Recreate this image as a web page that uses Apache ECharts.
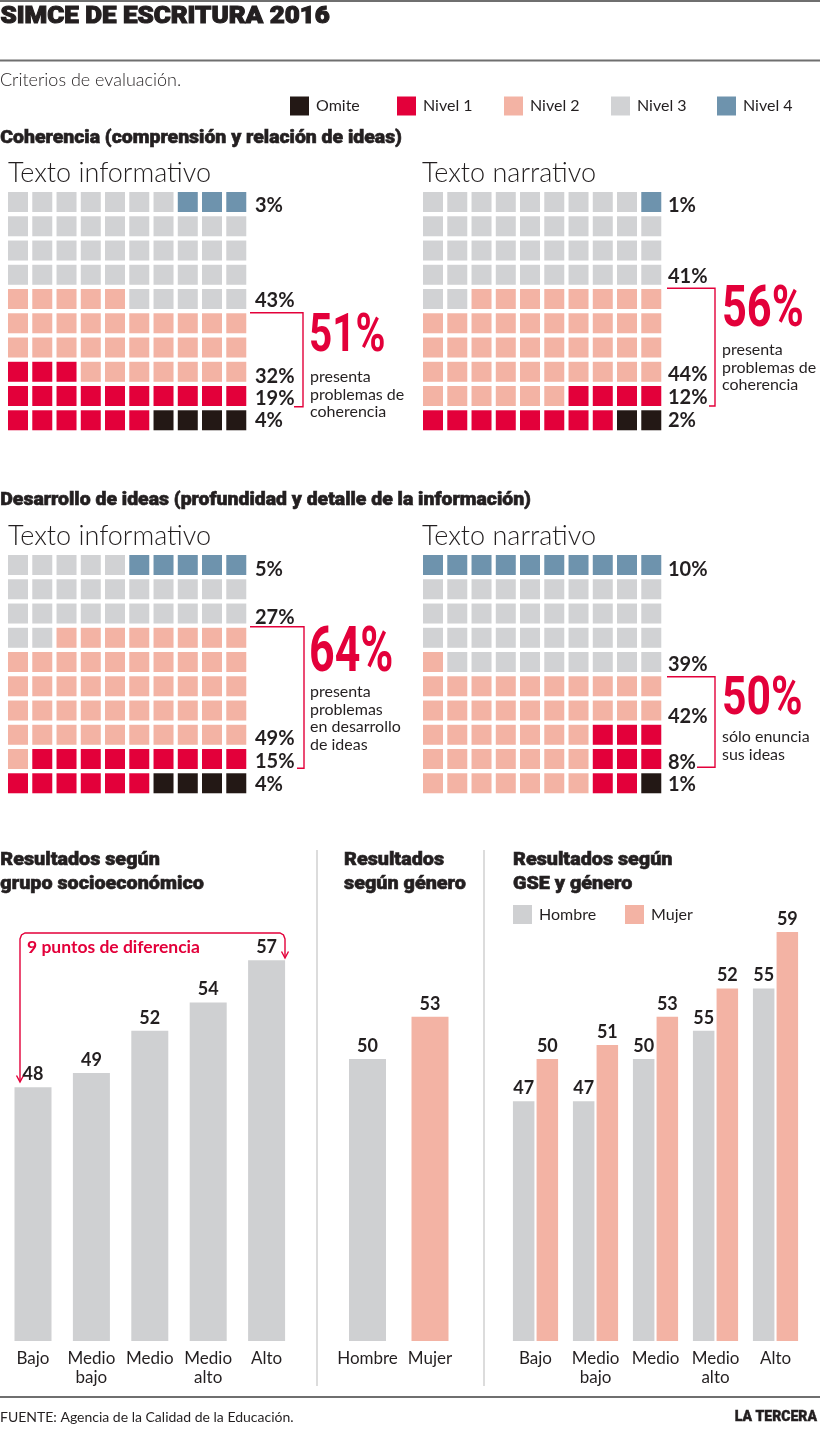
<!DOCTYPE html>
<html>
<head>
<meta charset="utf-8">
<script src="https://cdn.jsdelivr.net/npm/echarts@6/dist/echarts.min.js"></script>
<style>
html,body{margin:0;padding:0;background:#fff;}
#c{width:820px;height:1442px;}
</style>
</head>
<body>
<div id="c"></div>
<script>
// ---------------- DATA ----------------
const LEVELS = ['Omite', 'Nivel 1', 'Nivel 2', 'Nivel 3', 'Nivel 4'];

// Waffle grids (rows top to bottom, one digit per cell: 0=Omite,1..4=Nivel)
const cohInfGrid = [
  '3333333444','3333333333','3333333333','3333333333','2222233333',
  '2222222222','2222222222','1112222222','1111111111','1111110000'
];
const cohNarGrid = [
  '3333333334','3333333333','3333333333','3333333333','3322222222',
  '2222222222','2222222222','2222222222','2222221111','1111111100'
];
const desInfGrid = [
  '3333344444','3333333333','3333333333','3322222222','2222222222',
  '2222222222','2222222222','2222222222','2111111111','1111110000'
];
const desNarGrid = [
  '4444444444','3333333333','3333333333','3333333333','2333333333',
  '2222222222','2222222222','2222222111','2222222111','2222222110'
];

const cohInfPct = ['3%', '43%', '32%', '19%', '4%'];
const cohNarPct = ['1%', '41%', '44%', '12%', '2%'];
const desInfPct = ['5%', '27%', '49%', '15%', '4%'];
const desNarPct = ['10%', '39%', '42%', '8%', '1%'];

const cohInfTotal = '51%';
const cohNarTotal = '56%';
const desInfTotal = '64%';
const desNarTotal = '50%';

const cohInfNote = ['presenta', 'problemas de', 'coherencia'];
const cohNarNote = ['presenta', 'problemas de', 'coherencia'];
const desInfNote = ['presenta', 'problemas', 'en desarrollo', 'de ideas'];
const desNarNote = ['sólo enuncia', 'sus ideas'];

const gseCats = ['Bajo', 'Medio\nbajo', 'Medio', 'Medio\nalto', 'Alto'];
const gseVals = [48, 49, 52, 54, 57];

const genCats = ['Hombre', 'Mujer'];
const genVals = [50, 53];

const gseHombre = [47, 47, 50, 52, 55];
const gseMujer = [50, 51, 53, 55, 59];
const gseHombreLabels = ['47', '47', '50', '55', '55'];
const gseMujerLabels = ['50', '51', '53', '52', '59'];

// ---------------- STYLE ----------------
const LEVEL_COLORS = ['#231815', '#e3003a', '#f3b3a4', '#d1d2d4', '#6e93ad'];
const RED = '#e3003a';
const INK = '#231f20';
const GREY_BAR = '#cfd0d2';
const SALMON = '#f3b3a4';
const FONT = 'Lato, "Open Sans", sans-serif';
const HEAVY = 'Roboto, Lato, sans-serif';

const chart = echarts.init(document.getElementById('c'), null, {renderer: 'canvas'});

// waffle panels layout
const PITCH = 24.25;
const panels = [
  {grid: cohInfGrid, left: 5.9, top: 189.9},
  {grid: cohNarGrid, left: 420.9, top: 189.9},
  {grid: desInfGrid, left: 5.9, top: 552.9},
  {grid: desNarGrid, left: 420.9, top: 552.9}
];

const grids = [], xAxes = [], yAxes = [], series = [];
panels.forEach((p, pi) => {
  grids.push({left: p.left, top: p.top, width: PITCH * 10, height: PITCH * 10, containLabel: false});
  xAxes.push({type: 'value', gridIndex: pi, min: 0, max: 10, show: false});
  yAxes.push({type: 'value', gridIndex: pi, min: 0, max: 10, inverse: true, show: false});
  LEVELS.forEach((lv, k) => {
    const data = [];
    p.grid.forEach((row, r) => {
      row.split('').forEach((ch, c) => {
        if (+ch === k) data.push([c + 0.5, r + 0.5]);
      });
    });
    series.push({
      type: 'scatter', name: lv, xAxisIndex: pi, yAxisIndex: pi,
      symbol: 'rect', symbolSize: 20, data: data, silent: true,
      itemStyle: {color: LEVEL_COLORS[k], opacity: 1}
    });
  });
});

// bar charts
const BAR_TOP = 918, BAR_H = 423;
const barLabel = {show: true, position: 'top', distance: 4, color: INK, fontFamily: FONT, fontWeight: 'bold', fontSize: 18};
const catAxis = (gi, data) => ({
  type: 'category', gridIndex: gi, data: data,
  axisLine: {show: false}, axisTick: {show: false}, splitLine: {show: false},
  axisLabel: {interval: 0, color: INK, fontFamily: FONT, fontSize: 17, lineHeight: 19, margin: 8}
});
const valAxis = (gi) => ({type: 'value', gridIndex: gi, min: 30, max: 60, show: false, splitLine: {show: false}});

// grid 4: GSE
grids.push({left: 3.8, top: BAR_TOP, width: 292, height: BAR_H});
xAxes.push(catAxis(4, gseCats));
yAxes.push(valAxis(4));
series.push({type: 'bar', name: 'GSE', xAxisIndex: 4, yAxisIndex: 4, data: gseVals, barWidth: 37,
  itemStyle: {color: GREY_BAR}, label: barLabel, silent: true});

// grid 5: género
grids.push({left: 336.25, top: BAR_TOP, width: 125, height: BAR_H});
xAxes.push(catAxis(5, genCats));
yAxes.push(valAxis(5));
series.push({type: 'bar', name: 'Género', xAxisIndex: 5, yAxisIndex: 5, barWidth: 37, silent: true,
  data: genVals.map((v, i) => ({value: v, itemStyle: {color: i === 0 ? GREY_BAR : SALMON}})),
  label: barLabel});

// grid 6: GSE y género
grids.push({left: 505.5, top: BAR_TOP, width: 300, height: BAR_H});
xAxes.push(catAxis(6, gseCats));
yAxes.push(valAxis(6));
series.push({type: 'bar', name: 'Hombre', xAxisIndex: 6, yAxisIndex: 6, data: gseHombre, barWidth: 21.5, barGap: '10%',
  itemStyle: {color: GREY_BAR}, silent: true,
  label: Object.assign({}, barLabel, {formatter: p => gseHombreLabels[p.dataIndex]})});
series.push({type: 'bar', name: 'Mujer', xAxisIndex: 6, yAxisIndex: 6, data: gseMujer, barWidth: 21.5, barGap: '10%',
  itemStyle: {color: SALMON}, silent: true,
  label: Object.assign({}, barLabel, {formatter: p => gseMujerLabels[p.dataIndex]})});

// ---------------- GRAPHIC ----------------
const G = [];
function T(x, y, s, font, opt) {
  opt = opt || {};
  const style = {text: s, x: 0, y: 0, font: font, fill: opt.fill || INK,
    textAlign: opt.align || 'left', align: opt.align || 'left',
    textVerticalAlign: 'middle', verticalAlign: 'middle'};
  if (opt.heavy) { style.stroke = opt.fill || INK; style.lineWidth = opt.heavy; }
  G.push({type: 'text', x: x, y: y, scaleX: opt.scaleX || 1, silent: true, style: style});
}
function L(x1, y1, x2, y2, color, w) {
  G.push({type: 'line', silent: true, shape: {x1, y1, x2, y2}, style: {stroke: color, lineWidth: w}});
}
function PL(points, color, w) {
  G.push({type: 'polyline', silent: true, shape: {points}, style: {stroke: color, lineWidth: w, fill: null}});
}

// header
L(0, 1, 820, 1, '#6f6f6f', 2);
T(0.5, 17, 'SIMCE DE ESCRITURA 2016', '900 24px ' + HEAVY, {scaleX: 1.08, heavy: 1.1});
L(0, 60.5, 820, 60.5, '#6f6f6f', 2);
T(0, 80, 'Criterios de evaluación.', '300 18px ' + FONT);

// section titles
const secFont = '900 18.5px ' + HEAVY;
T(0.3, 138, 'Coherencia (comprensión y relación de ideas)', secFont, {scaleX: 1.05, heavy: 0.6});
T(8, 173, 'Texto informativo', '300 27px ' + FONT);
T(422, 173, 'Texto narrativo', '300 27px ' + FONT);
T(0.3, 500, 'Desarrollo de ideas (profundidad y detalle de la información)', secFont, {scaleX: 1.05, heavy: 0.6});
T(8, 536, 'Texto informativo', '300 27px ' + FONT);
T(422, 536, 'Texto narrativo', '300 27px ' + FONT);

// percentage labels
const pctFont = 'bold 20px ' + FONT;
const pctY = {
  cohInf: [206, 301, 377, 399, 421],
  cohNar: [206, 277, 375, 398, 421],
  desInf: [570, 618, 739, 762, 785],
  desNar: [570, 665, 717, 763, 785]
};
cohInfPct.forEach((s, i) => T(255, pctY.cohInf[i], s, pctFont));
cohNarPct.forEach((s, i) => T(668, pctY.cohNar[i], s, pctFont));
desInfPct.forEach((s, i) => T(255, pctY.desInf[i], s, pctFont));
desNarPct.forEach((s, i) => T(668, pctY.desNar[i], s, pctFont));

// brackets
PL([[250, 312.7], [303, 312.7], [303, 406.7], [294, 406.7]], RED, 1.4);
PL([[667, 288.3], [715, 288.3], [715, 406], [709, 406]], RED, 1.4);
PL([[250, 626.7], [304, 626.7], [304, 768.3], [297, 768.3]], RED, 1.4);
PL([[667, 676.7], [715, 676.7], [715, 767.3], [697, 767.3]], RED, 1.4);

// big totals
const bigFont = (sz) => 'bold ' + sz + 'px Roboto, ' + FONT;
T(309, 337, cohInfTotal, bigFont(54), {fill: RED, scaleX: 0.75});
T(722, 312, cohNarTotal, bigFont(57), {fill: RED, scaleX: 0.76});
T(309, 655, desInfTotal, bigFont(63), {fill: RED, scaleX: 0.71});
T(722, 700, desNarTotal, bigFont(54), {fill: RED, scaleX: 0.79});

// notes
const noteFont = '16px ' + FONT;
const noteLH = 17.5;
cohInfNote.forEach((s, i) => T(310, 377 + i * noteLH, s, noteFont));
cohNarNote.forEach((s, i) => T(722, 350 + i * noteLH, s, noteFont));
desInfNote.forEach((s, i) => T(310, 692 + i * noteLH, s, noteFont));
desNarNote.forEach((s, i) => T(722, 737 + i * noteLH, s, noteFont));

// bottom section titles
const subFont = '900 19px ' + HEAVY;
const subOpt = {scaleX: 1.04, heavy: 0.6};
T(0.3, 860, 'Resultados según', subFont, subOpt);
T(0.3, 884, 'grupo socioeconómico', subFont, subOpt);
T(344, 860, 'Resultados', subFont, subOpt);
T(344, 884, 'según género', subFont, subOpt);
T(513, 860, 'Resultados según', subFont, subOpt);
T(513, 884, 'GSE y género', subFont, subOpt);

// dividers
L(317, 850, 317, 1386, '#d0d0d0', 1.5);
L(484, 850, 484, 1386, '#d0d0d0', 1.5);

// 9 puntos annotation
PL([[20, 1081], [20, 939], [21.5, 935], [25, 933], [280, 933], [283.5, 935], [285, 939], [285, 957]], RED, 1.4);
PL([[16.5, 1075.5], [20, 1082], [23.5, 1075.5]], RED, 1.4);
PL([[281.5, 951.5], [285, 958], [288.5, 951.5]], RED, 1.4);
T(27, 947, '9 puntos de diferencia', 'bold 17.5px ' + FONT, {fill: RED});

// footer
L(0, 1397, 820, 1397, '#6f6f6f', 2);
T(0, 1417, 'FUENTE: Agencia de la Calidad de la Educación.', '14px ' + FONT);
T(817, 1417, 'LA TERCERA', '900 14px ' + HEAVY, {align: 'right', heavy: 0.4});

// legends: one component per item so each sits where the reference has it
const legendLefts = [290, 397, 504, 611, 717];
const legends = LEVELS.map((lv, i) => ({
  data: [lv], left: legendLefts[i], top: 96.5, icon: 'rect', itemWidth: 19, itemHeight: 19,
  selectedMode: false, padding: 0,
  textStyle: {fontFamily: FONT, fontSize: 16, color: INK, padding: [0, 0, 0, 2]}
}));
const genderLegendLefts = [513, 625];
['Hombre', 'Mujer'].forEach((nm, i) => legends.push({
  data: [nm], left: genderLegendLefts[i], top: 905, icon: 'rect', itemWidth: 19, itemHeight: 19,
  selectedMode: false, padding: 0,
  textStyle: {fontFamily: FONT, fontSize: 16, color: INK, padding: [0, 0, 0, 2]}
}));

const option = {
  backgroundColor: '#ffffff',
  animation: false,
  grid: grids,
  xAxis: xAxes,
  yAxis: yAxes,
  legend: legends,
  series: series,
  graphic: {elements: G}
};
chart.setOption(option);
</script>
</body>
</html>
